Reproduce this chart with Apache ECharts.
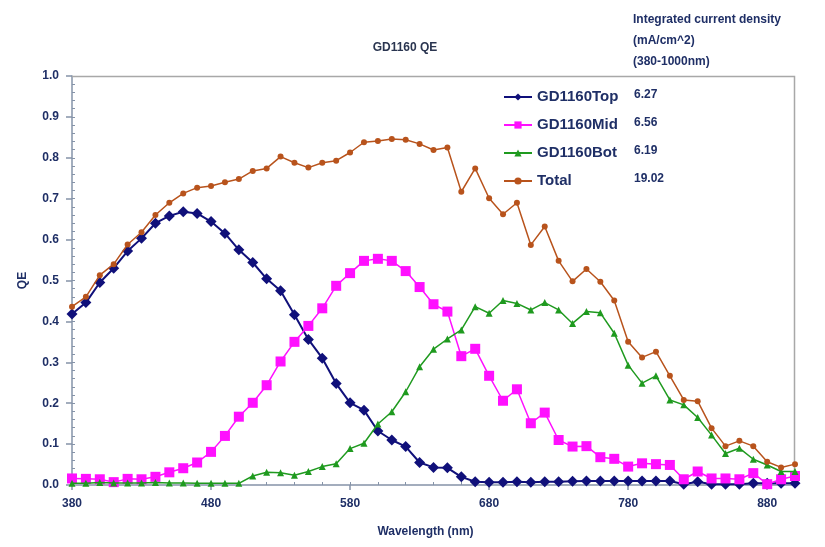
<!DOCTYPE html>
<html>
<head>
<meta charset="utf-8">
<script src="https://cdn.jsdelivr.net/npm/echarts@6/dist/echarts.min.js"></script>
<style>
  html, body { margin: 0; padding: 0; background: #ffffff; }
  #chart { width: 825px; height: 547px; }
</style>
</head>
<body>
<div id="chart"></div>
<script>
// Wavelength grid (nm)
const wavelengths = [380, 390, 400, 410, 420, 430, 440, 450, 460, 470, 480, 490, 500, 510, 520, 530, 540, 550, 560, 570,
  580, 590, 600, 610, 620, 630, 640, 650, 660, 670, 680, 690, 700, 710, 720, 730, 740, 750, 760, 770,
  780, 790, 800, 810, 820, 830, 840, 850, 860, 870, 880, 890, 900];

// Quantum efficiency per sub-cell
const qeTop = [0.418, 0.446, 0.495, 0.530, 0.572, 0.603, 0.640, 0.658, 0.668, 0.664, 0.644, 0.615, 0.575, 0.544, 0.504, 0.475, 0.416, 0.356, 0.310, 0.248,
  0.201, 0.183, 0.132, 0.110, 0.094, 0.055, 0.043, 0.042, 0.020, 0.008, 0.007, 0.007, 0.008, 0.007, 0.008, 0.008, 0.009, 0.010, 0.010, 0.010,
  0.010, 0.010, 0.010, 0.010, 0.002, 0.008, 0.002, 0.002, 0.002, 0.004, 0.004, 0.004, 0.004];
const qeMid = [0.016, 0.015, 0.014, 0.007, 0.015, 0.014, 0.020, 0.031, 0.041, 0.055, 0.081, 0.120, 0.167, 0.201, 0.244, 0.302, 0.350, 0.389, 0.432, 0.487,
  0.518, 0.548, 0.553, 0.548, 0.523, 0.484, 0.442, 0.424, 0.315, 0.333, 0.267, 0.206, 0.234, 0.151, 0.177, 0.110, 0.094, 0.095, 0.068, 0.064,
  0.045, 0.053, 0.051, 0.049, 0.014, 0.033, 0.016, 0.016, 0.014, 0.029, 0.002, 0.014, 0.022];
const qeBot = [0.004, 0.004, 0.006, 0.005, 0.005, 0.005, 0.006, 0.005, 0.005, 0.004, 0.004, 0.004, 0.004, 0.022, 0.031, 0.030, 0.024, 0.033, 0.045, 0.052,
  0.089, 0.102, 0.149, 0.179, 0.228, 0.289, 0.332, 0.357, 0.379, 0.436, 0.420, 0.451, 0.444, 0.428, 0.446, 0.428, 0.395, 0.424, 0.421, 0.371,
  0.293, 0.249, 0.267, 0.208, 0.196, 0.165, 0.122, 0.077, 0.090, 0.063, 0.049, 0.033, 0.033];
const qeTotal = [0.436, 0.460, 0.513, 0.540, 0.588, 0.618, 0.660, 0.690, 0.713, 0.727, 0.731, 0.740, 0.748, 0.768, 0.774, 0.803, 0.788, 0.776, 0.788, 0.793,
  0.813, 0.838, 0.841, 0.846, 0.844, 0.834, 0.819, 0.825, 0.717, 0.774, 0.701, 0.662, 0.690, 0.587, 0.632, 0.548, 0.498, 0.528, 0.497, 0.451,
  0.350, 0.312, 0.326, 0.267, 0.208, 0.205, 0.139, 0.095, 0.108, 0.095, 0.057, 0.043, 0.051];

// Series names and their integrated current densities (mA/cm^2)
const seriesNames = ['GD1160Top', 'GD1160Mid', 'GD1160Bot', 'Total'];
const currentDensity = ['6.27', '6.56', '6.19', '19.02'];

// Axis tick labels
const xTickLabels = [380, 480, 580, 680, 780, 880];

const navy = '#1f2f66';
const font = 'Liberation Sans, Arial, sans-serif';

const pairs = arr => wavelengths.map((w, i) => [w, arr[i]]);
const densityOf = {};
seriesNames.forEach((n, i) => { densityOf[n] = currentDensity[i]; });

const chart = echarts.init(document.getElementById('chart'), null, { renderer: 'canvas' });

chart.setOption({
  backgroundColor: '#ffffff',
  animation: false,
  title: {
    text: 'GD1160 QE',
    left: 400,
    top: 37,
    textAlign: 'center',
    textStyle: { fontFamily: font, fontSize: 12, fontWeight: 'bold', color: '#2a3550' }
  },
  graphic: [
    {
      type: 'text',
      left: 633,
      top: 9,
      style: {
        text: 'Integrated current density\n(mA/cm^2)\n(380-1000nm)',
        fontFamily: font,
        fontSize: 12,
        fontWeight: 'bold',
        lineHeight: 21,
        fill: navy
      }
    },
    {
      // plot frame: top and right edges
      type: 'polyline',
      shape: { points: [[72, 76.5], [794.5, 76.5], [794.5, 485]] },
      style: { stroke: '#a8a8a8', lineWidth: 1.5, fill: null },
      z: 1
    }
  ],
  legend: {
    orient: 'vertical',
    left: 503,
    top: 89,
    padding: 0,
    itemWidth: 28,
    itemHeight: 9,
    itemGap: 12,
    data: seriesNames,
    formatter: name => `{n|${name}}{v|${densityOf[name]}}`,
    textStyle: {
      fontFamily: font,
      fontSize: 15,
      fontWeight: 'bold',
      color: navy,
      lineHeight: 16,
      rich: {
        n: { width: 97, fontFamily: font, fontSize: 15, fontWeight: 'bold', color: navy, lineHeight: 16 },
        v: { fontFamily: font, fontSize: 12, fontWeight: 'bold', color: navy, lineHeight: 16, padding: [0, 0, 4, 0] }
      }
    }
  },
  grid: { left: 72, right: 30, top: 76, bottom: 62 },
  xAxis: [
    {
      type: 'value',
      min: 380,
      max: 900,
      name: 'Wavelength (nm)',
      nameLocation: 'middle',
      nameGap: 41,
      nameTextStyle: { fontFamily: font, fontSize: 12, fontWeight: 'bold', color: navy, padding: [0, 16, 0, 0] },
      splitLine: { show: false },
      axisLine: { lineStyle: { color: '#8593a8', width: 1.5 } },
      axisTick: { show: true, inside: false, length: 5, customValues: xTickLabels, lineStyle: { color: '#8593a8', width: 1.5 } },
      axisLabel: { customValues: xTickLabels, margin: 13, fontFamily: font, fontSize: 12, fontWeight: 'bold', color: navy }
    },
    {
      // minor ticks every 20 nm
      type: 'value',
      min: 380,
      max: 900,
      interval: 20,
      position: 'bottom',
      splitLine: { show: false },
      axisLine: { show: false },
      axisTick: { show: true, inside: true, length: 3, lineStyle: { color: '#8593a8', width: 1 } },
      axisLabel: { show: false }
    }
  ],
  yAxis: [
    {
      type: 'value',
      min: 0,
      max: 1,
      interval: 0.1,
      name: 'QE',
      nameLocation: 'middle',
      nameGap: 43,
      nameTextStyle: { fontFamily: font, fontSize: 12, fontWeight: 'bold', color: navy },
      splitLine: { show: false },
      axisLine: { show: true, lineStyle: { color: '#8593a8', width: 1.5 } },
      axisTick: { show: true, inside: false, length: 6, lineStyle: { color: '#8593a8', width: 1.5 } },
      axisLabel: { margin: 13, formatter: v => v.toFixed(1), fontFamily: font, fontSize: 12, fontWeight: 'bold', color: navy }
    },
    {
      // minor ticks every 0.02
      type: 'value',
      min: 0,
      max: 1,
      interval: 0.02,
      position: 'left',
      splitLine: { show: false },
      axisLine: { show: false },
      axisTick: { show: true, inside: true, length: 3, lineStyle: { color: '#8593a8', width: 1 } },
      axisLabel: { show: false }
    }
  ],
  series: [
    {
      name: seriesNames[0],
      type: 'line',
      data: pairs(qeTop),
      symbol: 'diamond',
      symbolSize: 11,
      color: '#10107a',
      lineStyle: { width: 2, color: '#10107a' },
      itemStyle: { color: '#10107a' },
      z: 3
    },
    {
      name: seriesNames[1],
      type: 'line',
      data: pairs(qeMid),
      symbol: 'rect',
      symbolSize: 10,
      color: '#ff10ff',
      lineStyle: { width: 1.5, color: '#ff10ff' },
      itemStyle: { color: '#ff10ff' },
      z: 4
    },
    {
      name: seriesNames[2],
      type: 'line',
      data: pairs(qeBot),
      symbol: 'triangle',
      symbolSize: 7,
      color: '#1f9a1f',
      lineStyle: { width: 1.5, color: '#1f9a1f' },
      itemStyle: { color: '#1f9a1f' },
      z: 5
    },
    {
      name: seriesNames[3],
      type: 'line',
      data: pairs(qeTotal),
      symbol: 'circle',
      symbolSize: 6,
      color: '#b8531c',
      lineStyle: { width: 1.5, color: '#b8531c' },
      itemStyle: { color: '#b8531c' },
      z: 6
    }
  ]
});
</script>
</body>
</html>
